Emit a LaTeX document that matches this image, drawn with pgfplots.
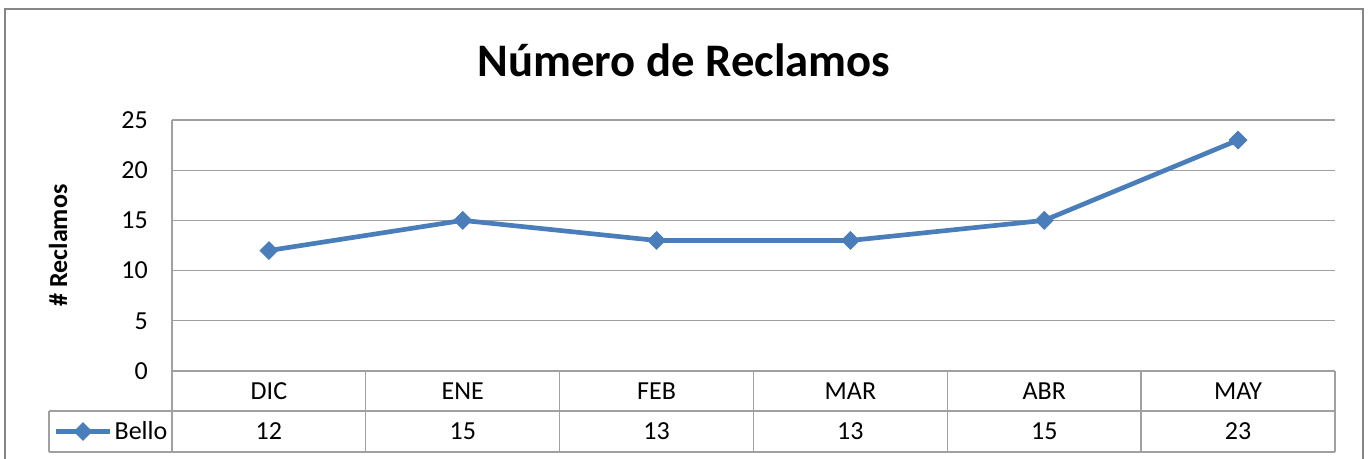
\documentclass[border=0pt]{standalone}
\usepackage{pgfplots}
\pgfplotsset{compat=1.18}
\usepackage{fontspec}
\setmainfont{Carlito}
\definecolor{xlblue}{RGB}{74,126,187}
\definecolor{xlgrid}{RGB}{160,160,160}
\definecolor{xlframe}{RGB}{134,134,134}

\begin{document}
\begin{tikzpicture}
% 1px = 0.75pt, origin at the lower left corner of the plot area
\useasboundingbox (-129pt,-66pt) rectangle (899.25pt,278.25pt);
\draw[xlframe, line width=1.8pt] (-125.25pt,-80pt) -- (-125.25pt,271.5pt) -- (893.25pt,271.5pt) -- (893.25pt,-80pt);
\node[anchor=base, font=\fontsize{35}{40}\selectfont\bfseries] at (384pt,220.5pt) {Número de Reclamos};

\begin{axis}[
  at={(0pt,0pt)}, anchor=south west,
  scale only axis, width=872.25pt, height=188.25pt,
  xmin=-0.5, xmax=5.5, ymin=0, ymax=25,
  clip=false,
  axis x line*=bottom, axis y line*=left,
  axis line style={xlgrid, line width=1pt},
  major tick length=0pt,
  ytick={0,5,10,15,20,25},
  ymajorgrids, grid style={xlgrid, line width=1pt},
  xtick={0,1,2,3,4,5},
  xticklabels={DIC,ENE,FEB,MAR,ABR,MAY},
  xticklabel style={anchor=base, yshift=-21.75pt, inner sep=0pt},
  extra x ticks={0,1,2,3,4,5},
  extra x tick labels={12,15,13,13,15,23},
  extra x tick style={grid=none, xticklabel style={yshift=-30pt}},
  yticklabel style={anchor=east, inner sep=0pt, xshift=-18pt},
  ticklabel style={font=\fontsize{19.5}{23}\selectfont},
  /pgf/number format/assume math mode=true,
  ylabel={\# Reclamos},
  ylabel style={font=\fontsize{19.5}{23}\selectfont\bfseries, at={(axis description cs:-0.098,0.5)}, anchor=center},
  legend style={draw=none, fill=none, at={(-0.1023,-0.241)}, anchor=west, inner sep=0pt,
    nodes={inner xsep=1.5pt, inner ysep=0pt}, font=\fontsize{19.5}{23}\selectfont},
  legend image code/.code={\draw[mark repeat=2,mark phase=2,#1] plot coordinates {(0pt,0pt)(20.5pt,0pt)(41pt,0pt)};},
]
% data table grid
\draw[xlgrid, line width=1pt] (axis cs:-1.1346,-3.984) -- (axis cs:5.5,-3.984);
\draw[xlgrid, line width=1pt] (axis cs:-1.1346,-8.07) -- (axis cs:5.5,-8.07);
\draw[xlgrid, line width=1pt] (axis cs:-1.1346,-3.984) -- (axis cs:-1.1346,-8.07);
\draw[xlgrid, line width=1pt] (axis cs:-0.5,0) -- (axis cs:-0.5,-8.07);
\draw[xlgrid, line width=1pt] (axis cs:0.5,0) -- (axis cs:0.5,-8.07);
\draw[xlgrid, line width=1pt] (axis cs:1.5,0) -- (axis cs:1.5,-8.07);
\draw[xlgrid, line width=1pt] (axis cs:2.5,0) -- (axis cs:2.5,-8.07);
\draw[xlgrid, line width=1pt] (axis cs:3.5,0) -- (axis cs:3.5,-8.07);
\draw[xlgrid, line width=1pt] (axis cs:4.5,0) -- (axis cs:4.5,-8.07);
\draw[xlgrid, line width=1pt] (axis cs:5.5,0) -- (axis cs:5.5,-8.07);
\addplot[xlblue, line width=3.5pt, mark=square*, mark size=4.6pt,
  mark options={rotate=45, line width=0.8pt, fill=xlblue}]
  coordinates {(0,12)(1,15)(2,13)(3,13)(4,15)(5,23)};
\addlegendentry{Bello}
\end{axis}
\end{tikzpicture}
\end{document}
